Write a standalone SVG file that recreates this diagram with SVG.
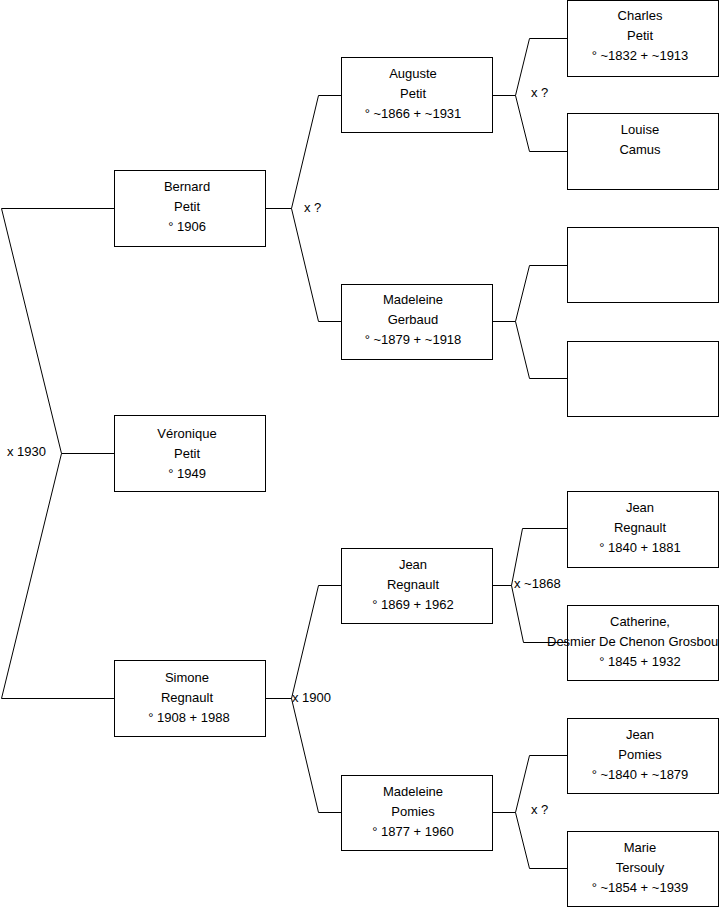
<svg xmlns="http://www.w3.org/2000/svg" width="719" height="908" viewBox="0 0 719 908">
<style>
.box{fill:#fff;stroke:#000;stroke-width:1}
.ln{fill:none;stroke:#000;stroke-width:1}
text{font-family:"Liberation Sans",Arial,sans-serif;font-size:13px;fill:#000}
.c{text-anchor:middle}
</style>
<rect width="719" height="908" fill="#fff"/>
<g id="connectors">
<path class="ln" d="M114.5 208.5 H1.5 L61.5 453.5 L1.5 698.5 H114.5 M61.5 453.5 H114.5"/>
<path class="ln" d="M265.5 208.5 H291.5 M341.5 95.5 H318.5 L291.5 208.5 L318.5 321.5 H341.5"/>
<path class="ln" d="M492.5 95.5 H515.5 M567.5 38.5 H529.5 L515.5 95.5 L529.5 151.5 H567.5"/>
<path class="ln" d="M492.5 321.5 H515.5 M567.5 265.5 H529.5 L515.5 321.5 L529.5 378.5 H567.5"/>
<path class="ln" d="M265.5 698.5 H291.5 M341.5 585.5 H318.5 L291.5 698.5 L318.5 812.5 H341.5"/>
<path class="ln" d="M492.5 585.5 H511.5 M567.5 528.5 H522.5 L511.5 585.5 L523.5 642.5 H567.5"/>
<path class="ln" d="M492.5 812.5 H515.5 M567.5 755.5 H529.5 L515.5 812.5 L529.5 868.5 H567.5"/>
<text x="7" y="456">x 1930</text>
<text x="304" y="212">x ?</text>
<text x="531" y="97">x ?</text>
<text x="292" y="702">x 1900</text>
<text x="514" y="588">x ~1868</text>
<text x="531" y="814">x ?</text>
</g>
<g id="bernard"><rect class="box" x="114.5" y="170.5" width="151" height="76"/>
<text class="c" x="187" y="191">Bernard</text><text class="c" x="187" y="211">Petit</text><text class="c" x="187" y="231">° 1906</text></g>
<g id="veronique"><rect class="box" x="114.5" y="415.5" width="151" height="76"/>
<text class="c" x="187" y="438">Véronique</text><text class="c" x="187" y="458">Petit</text><text class="c" x="187" y="478">° 1949</text></g>
<g id="simone"><rect class="box" x="114.5" y="660.5" width="151" height="76"/>
<text class="c" x="187" y="682">Simone</text><text class="c" x="187" y="702">Regnault</text><text class="c" x="189" y="722">° 1908 + 1988</text></g>
<g id="auguste"><rect class="box" x="341.5" y="57.5" width="151" height="75"/>
<text class="c" x="413" y="78">Auguste</text><text class="c" x="413" y="98">Petit</text><text class="c" x="413" y="118">° ~1866 + ~1931</text></g>
<g id="madeleine-gerbaud"><rect class="box" x="341.5" y="284.5" width="151" height="75"/>
<text class="c" x="413" y="304">Madeleine</text><text class="c" x="413" y="324">Gerbaud</text><text class="c" x="413" y="344">° ~1879 + ~1918</text></g>
<g id="jean-regnault-1869"><rect class="box" x="341.5" y="548.5" width="151" height="75"/>
<text class="c" x="413" y="569">Jean</text><text class="c" x="413" y="589">Regnault</text><text class="c" x="413" y="609">° 1869 + 1962</text></g>
<g id="madeleine-pomies"><rect class="box" x="341.5" y="775.5" width="151" height="75"/>
<text class="c" x="413" y="796">Madeleine</text><text class="c" x="413" y="816">Pomies</text><text class="c" x="413" y="836">° 1877 + 1960</text></g>
<g id="charles"><rect class="box" x="567.5" y="0.5" width="151" height="76"/>
<text class="c" x="640" y="20">Charles</text><text class="c" x="640" y="40">Petit</text><text class="c" x="640" y="60">° ~1832 + ~1913</text></g>
<g id="louise"><rect class="box" x="567.5" y="113.5" width="151" height="76"/>
<text class="c" x="640" y="134">Louise</text><text class="c" x="640" y="154">Camus</text></g>
<g id="unknown-1"><rect class="box" x="567.5" y="227.5" width="151" height="75"/></g>
<g id="unknown-2"><rect class="box" x="567.5" y="341.5" width="151" height="75"/></g>
<g id="jean-regnault-1840"><rect class="box" x="567.5" y="491.5" width="151" height="76"/>
<text class="c" x="640" y="512">Jean</text><text class="c" x="640" y="532">Regnault</text><text class="c" x="640" y="552">° 1840 + 1881</text></g>
<g id="catherine"><rect class="box" x="567.5" y="605.5" width="151" height="75"/>
<text class="c" x="640" y="626">Catherine,</text><text x="547" y="646">Desmier De Chenon Grosbou</text><text class="c" x="640" y="666">° 1845 + 1932</text></g>
<g id="jean-pomies"><rect class="box" x="567.5" y="718.5" width="151" height="75"/>
<text class="c" x="640" y="739">Jean</text><text class="c" x="640" y="759">Pomies</text><text class="c" x="640" y="779">° ~1840 + ~1879</text></g>
<g id="marie"><rect class="box" x="567.5" y="831.5" width="151" height="75"/>
<text class="c" x="640" y="852">Marie</text><text class="c" x="640" y="872">Tersouly</text><text class="c" x="640" y="892">° ~1854 + ~1939</text></g>
</svg>
